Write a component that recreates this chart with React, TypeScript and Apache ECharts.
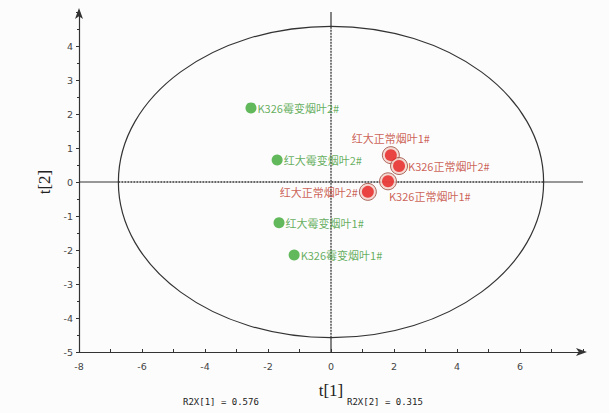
import React, { useEffect, useRef } from "react";
import * as echarts from "echarts";

const greenNames = ["K326霉变烟叶2#", "红大霉变烟叶2#", "红大霉变烟叶1#", "K326霉变烟叶1#"];
const greenX = [-2.54, -1.71, -1.65, -1.17];
const greenY = [2.18, 0.65, -1.2, -2.15];

const redNames = ["红大正常烟叶1#", "K326正常烟叶2#", "K326正常烟叶1#", "红大正常烟叶2#"];
const redX = [1.9, 2.16, 1.81, 1.17];
const redY = [0.79, 0.47, 0.02, -0.29];

// Hotelling T2 ellipse: centre and semi-axes
const ellipseParams = [0, 0, 6.75, 4.58];

const r2x = ["R2X[1] = 0.576", "R2X[2] = 0.315"];

const xRange = [-8, 8];
const yRange = [-5, 5];

export default function App() {
  const ref = useRef<HTMLDivElement>(null);
  useEffect(() => {
    if (!ref.current) return;
    const chart = echarts.init(ref.current, undefined, { renderer: "svg" });
    const rx = ellipseParams[2];
    const ry = ellipseParams[3];
    const green = "#3aa832";
    const greenText = "#3d9a35";
    const redText = "#c0392b";
    const redLabelPos: any[] = [
      { position: "top", distance: 3 },
      { position: "right", distance: 0 },
      { position: "right", distance: 0, offset: [-8, 15] },
      { position: "left", distance: 1 },
    ];
    const solid = { color: "#333", width: 1.2, type: "solid" as const };
    const dotted = { color: "#333", width: 1.3, type: [2, 1] as any };
    const lineSeries = (data: number[][], style: any) => ({
      type: "line",
      data,
      symbol: "none",
      lineStyle: style,
      silent: true,
      z: 1,
    });
    chart.setOption({
      animation: false,
      backgroundColor: "#fcfcfc",
      grid: { left: 79, right: 26, top: 12, bottom: 61 },
      xAxis: {
        type: "value",
        min: xRange[0],
        max: xRange[1],
        interval: 2,
        name: "t[1]",
        nameLocation: "middle",
        nameGap: 30,
        nameTextStyle: { fontFamily: "Liberation Serif", fontSize: 17, color: "#222" },
        axisLine: {
          onZero: false,
          lineStyle: { color: "#333", width: 1.2 },
          symbol: ["none", "arrow"],
          symbolSize: [6, 11],
          symbolOffset: [0, 4],
        },
        axisTick: { inside: true, length: 3, lineStyle: { color: "#333" } },
        minorTick: { show: true, splitNumber: 2, length: 3, lineStyle: { color: "#333" } },
        axisLabel: {
          showMaxLabel: false,
          margin: 9,
          fontSize: 9.5,
          color: "#444",
          fontFamily: "DejaVu Sans",
        },
        splitLine: { show: false },
      },
      yAxis: {
        type: "value",
        min: yRange[0],
        max: yRange[1],
        interval: 1,
        name: "t[2]",
        nameLocation: "middle",
        nameGap: 22,
        nameTextStyle: { fontFamily: "Liberation Serif", fontSize: 17, color: "#222" },
        axisLine: {
          onZero: false,
          lineStyle: { color: "#333", width: 1.2 },
          symbol: ["none", "arrow"],
          symbolSize: [6, 11],
          symbolOffset: [0, 4],
        },
        axisTick: { inside: false, length: 3, lineStyle: { color: "#333" } },
        minorTick: { show: true, splitNumber: 2, length: 2, lineStyle: { color: "#333" } },
        axisLabel: {
          showMaxLabel: false,
          margin: 6,
          fontSize: 9.5,
          color: "#444",
          fontFamily: "DejaVu Sans",
        },
        splitLine: { show: false },
      },
      graphic: [
        {
          type: "text",
          left: 183,
          top: 397,
          style: { text: r2x[0], font: "9px 'DejaVu Sans Mono'", fill: "#222" },
        },
        {
          type: "text",
          left: 347,
          top: 397,
          style: { text: r2x[1], font: "9px 'DejaVu Sans Mono'", fill: "#222" },
        },
      ],
      series: [
        lineSeries([[xRange[0], 0], [-rx, 0]], solid),
        lineSeries([[-rx, 0], [rx, 0]], dotted),
        lineSeries([[rx, 0], [xRange[1], 0]], solid),
        lineSeries([[0, yRange[0]], [0, -ry]], solid),
        lineSeries([[0, -ry], [0, ry]], dotted),
        lineSeries([[0, ry], [0, yRange[1]]], solid),
        {
          type: "custom",
          silent: true,
          z: 2,
          data: [ellipseParams],
          renderItem: (params: any, api: any) => {
            const c = api.coord([api.value(0), api.value(1)]);
            const e = api.coord([api.value(0) + api.value(2), api.value(1) + api.value(3)]);
            return {
              type: "ellipse",
              shape: { cx: c[0], cy: c[1], rx: Math.abs(e[0] - c[0]), ry: Math.abs(c[1] - e[1]) },
              style: { fill: "none", stroke: "#333", lineWidth: 1.2 },
            };
          },
        },
        {
          type: "scatter",
          z: 5,
          symbolSize: 11,
          itemStyle: { color: green },
          label: {
            show: true,
            position: "right",
            distance: 1,
            formatter: (p: any) => p.name,
            color: greenText,
            fontSize: 11,
            fontFamily: "Noto Sans CJK SC",
          },
          data: greenNames.map((n, i) => ({ name: n, value: [greenX[i], greenY[i]] })),
        },
        {
          type: "scatter",
          z: 5,
          symbolSize: 17,
          itemStyle: { color: "#f3cfc8", borderColor: "#9a4a3c", borderWidth: 1 },
          label: {
            show: true,
            formatter: (p: any) => p.name,
            color: redText,
            fontSize: 11,
            fontFamily: "Noto Sans CJK SC",
          },
          data: redNames.map((n, i) => ({
            name: n,
            value: [redX[i], redY[i]],
            label: redLabelPos[i],
          })),
        },
        {
          type: "scatter",
          z: 6,
          symbolSize: 12,
          itemStyle: { color: "#e61e1e" },
          data: redNames.map((n, i) => ({ name: n, value: [redX[i], redY[i]] })),
        },
      ],
    });
    return () => chart.dispose();
  }, []);
  return (
    <div
      ref={ref}
      style={{ position: "fixed", left: 0, top: 0, width: 609, height: 413 }}
    />
  );
}
